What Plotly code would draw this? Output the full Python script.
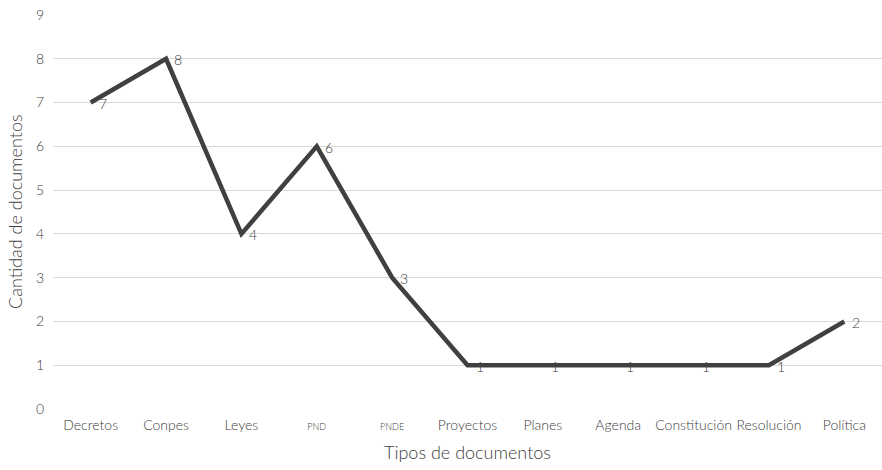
import plotly.graph_objects as go

# Document types and their counts
categorias = ["Decretos", "Conpes", "Leyes", "PND", "PNDE", "Proyectos",
              "Planes", "Agenda", "Constitución", "Resolución", "Política"]
cantidades = [7, 8, 4, 6, 3, 1, 1, 1, 1, 1, 2]

# Tick labels (PND / PNDE are set in a smaller size)
etiquetas = ["Decretos", "Conpes", "Leyes",
             "<span style='font-size:9px'>PND</span>",
             "<span style='font-size:9px'>PNDE</span>",
             "Proyectos", "Planes", "Agenda", "Constitución", "Resolución", "Política"]
y_ticks = list(range(0, 10))

FONT = "Lato"
GRAY = "#404040"

x_pos = list(range(len(categorias)))

fig = go.Figure()
fig.add_trace(go.Scatter(
    x=x_pos,
    y=cantidades,
    mode="lines",
    line=dict(color="#404040", width=4.5),
    showlegend=False,
))

# Value labels placed just to the right of each point
for xi, v in zip(x_pos, cantidades):
    fig.add_annotation(
        x=xi, y=v, text=str(v), showarrow=False,
        xanchor="left", yanchor="middle", xshift=6, yshift=-1,
        font=dict(family=FONT, size=14, color=GRAY, weight=300),
    )

# Vertical axis title
fig.add_annotation(
    xref="paper", yref="paper", x=0, y=0.5, xshift=-38,
    text="Cantidad de documentos", textangle=-90, showarrow=False,
    xanchor="center", yanchor="middle",
    font=dict(family=FONT, size=18, color=GRAY, weight=300),
)

fig.update_layout(
    width=882, height=470,
    margin=dict(l=53, r=0, t=15, b=61),
    paper_bgcolor="white", plot_bgcolor="white",
    font=dict(family=FONT, color=GRAY, size=13, weight=300),
    xaxis=dict(
        tickmode="array",
        tickvals=x_pos,
        ticktext=etiquetas,
        range=[-0.5, len(categorias) - 0.5],
        showgrid=False, zeroline=False, showline=False,
        ticks="", ticklen=0, tickangle=0,
        ticklabelstandoff=6,
        tickfont=dict(family=FONT, size=14, color=GRAY, weight=300),
        title=dict(text="Tipos de documentos", font=dict(family=FONT, size=18, color=GRAY, weight=300), standoff=14),
    ),
    yaxis=dict(
        range=[0, 9],
        tickvals=y_ticks,
        showgrid=True, gridcolor="#d9d9d9", gridwidth=1,
        zeroline=False, showline=False,
        ticks="", tickfont=dict(family=FONT, size=14, color=GRAY, weight=300),
        ticklabelstandoff=8,
    ),
)

fig.write_html("out.html")
